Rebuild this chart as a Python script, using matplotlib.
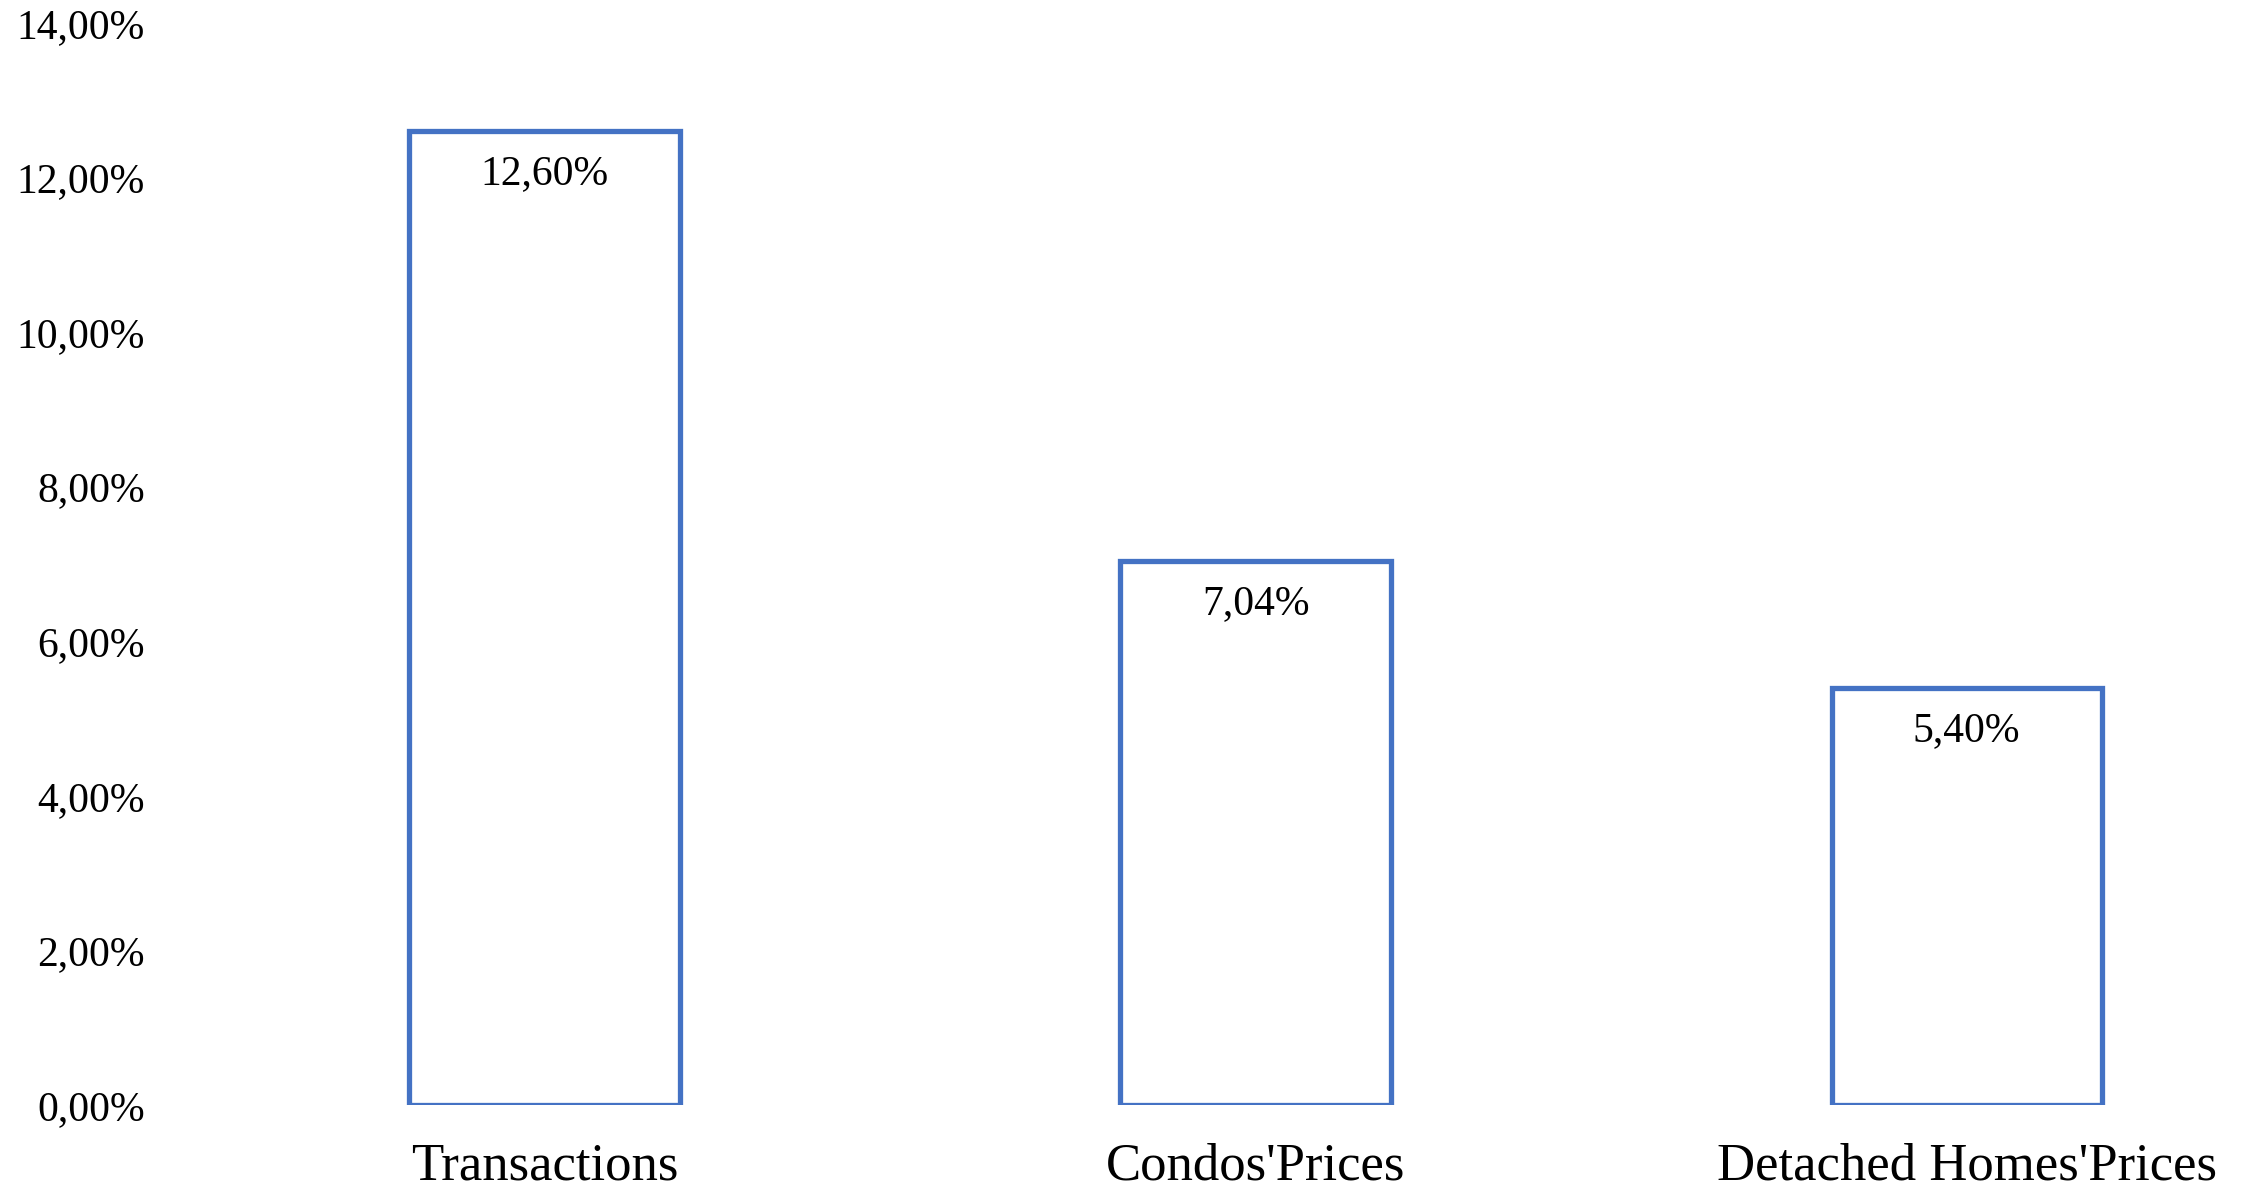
import matplotlib.pyplot as plt
from matplotlib.ticker import FuncFormatter, MultipleLocator

categories = ["Transactions", "Condos'Prices", "Detached Homes'Prices"]
values = [12.60, 7.04, 5.40]

plt.rcParams['font.family'] = ['Liberation Serif', 'DejaVu Serif']

def pct(v, pos=None):
    return f"{v:.2f}%".replace(".", ",")

fig = plt.figure(figsize=(22.44, 11.91), dpi=100)
ax = fig.add_axes([0.0842, 0.0722, 1 - 0.0842, 0.9085])

x = range(len(categories))
bars = ax.bar(x, values, width=0.38, facecolor="white",
              edgecolor="#4472C4", linewidth=3.8)

for b, v in zip(bars, values):
    ax.annotate(pct(v), (b.get_x() + b.get_width() / 2, v),
                xytext=(0, -31), textcoords="offset points",
                ha="center", va="center", fontsize=30)

ax.set_xlim(-0.5, 2.39)
ax.set_ylim(0, 14)
ax.yaxis.set_major_locator(MultipleLocator(2))
ax.yaxis.set_major_formatter(FuncFormatter(pct))
ax.set_xticks(list(x))
ax.set_xticklabels(categories, fontsize=38)
ax.tick_params(axis="y", length=0, pad=32, labelsize=30)
ax.tick_params(axis="x", length=0, pad=27)
for s in ax.spines.values():
    s.set_visible(False)

fig.savefig("out.png", dpi=100)
